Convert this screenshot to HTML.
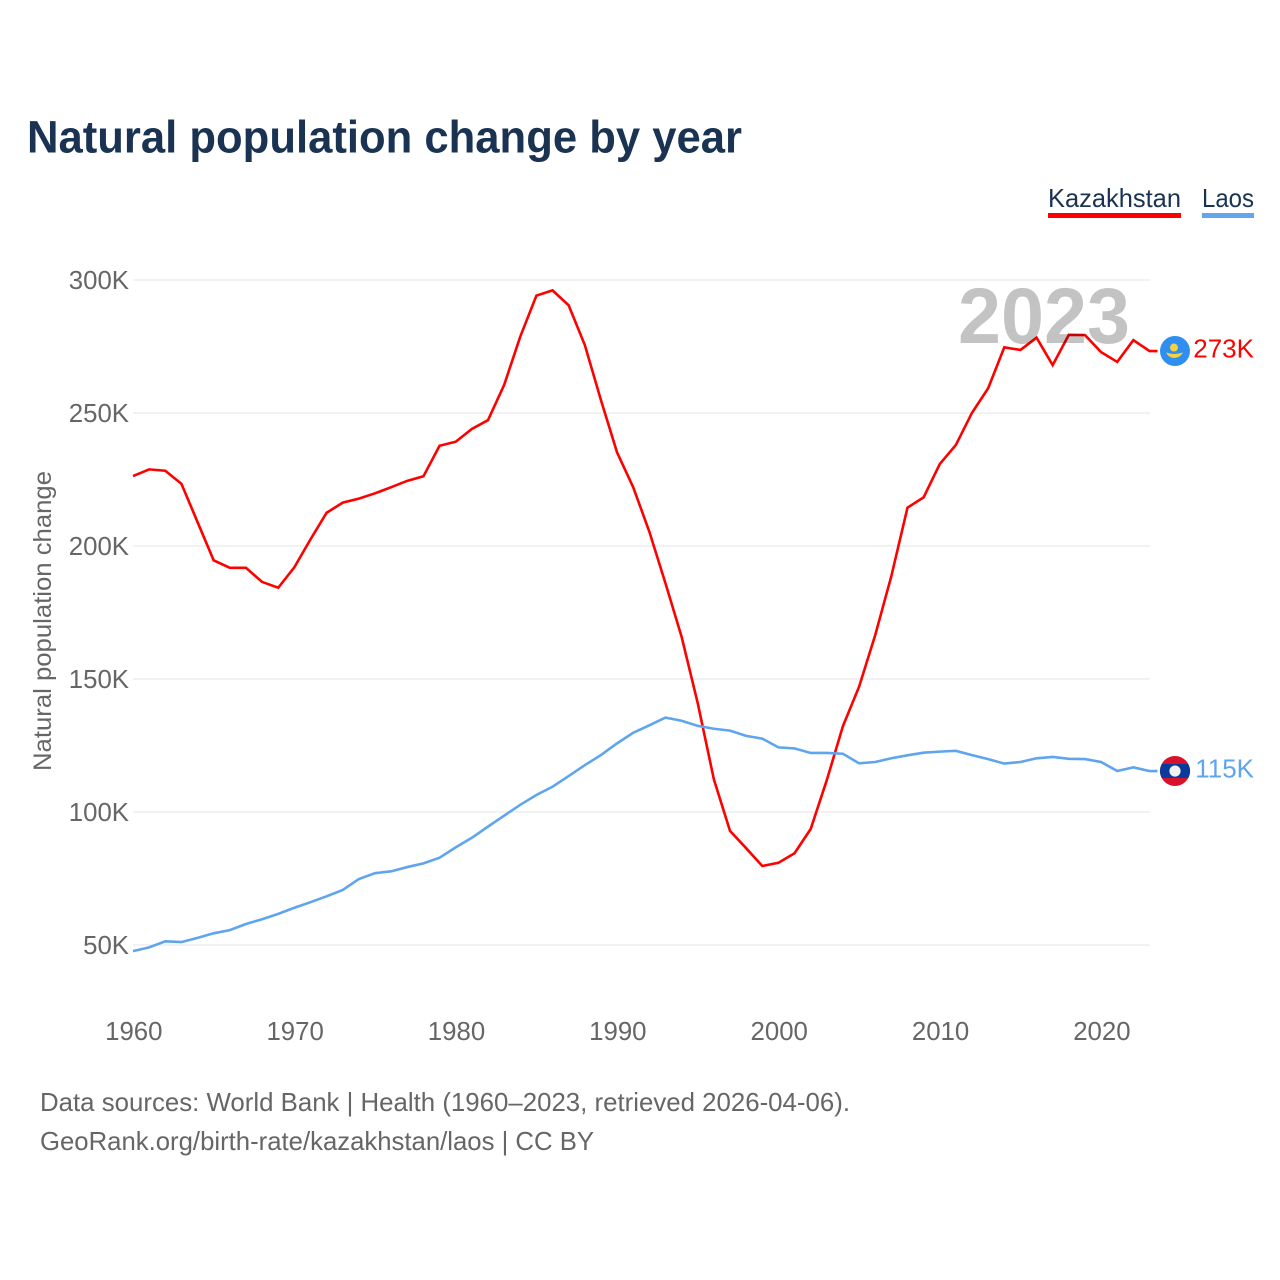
<!DOCTYPE html>
<html lang="en">
<head>
<meta charset="utf-8">
<title>Natural population change by year</title>
<style>
  html, body { margin: 0; padding: 0; background: #fff; }
  svg { display: block; font-family: "Liberation Sans", sans-serif; }
</style>
</head>
<body>
<svg id="chart" xmlns="http://www.w3.org/2000/svg" width="1280" height="1280" viewBox="0 0 1280 1280">
  <rect x="0" y="0" width="1280" height="1280" fill="#ffffff"/>
  <text x="27" y="152.5" font-size="45" font-weight="700" fill="#1a3353" textLength="715" lengthAdjust="spacingAndGlyphs">Natural population change by year</text>

  <g>
    <text x="1048" y="207" font-size="26" fill="#1a3353" textLength="133" lengthAdjust="spacingAndGlyphs">Kazakhstan</text>
    <rect x="1048" y="213" width="133" height="5" fill="#ff0000"/>
  </g>
  <g>
    <text x="1202" y="207" font-size="26" fill="#1a3353" textLength="52" lengthAdjust="spacingAndGlyphs">Laos</text>
    <rect x="1202" y="213" width="52" height="5" fill="#62a6ee"/>
  </g>

  <text transform="translate(51,621) rotate(-90)" text-anchor="middle" font-size="25" fill="#666666" textLength="300" lengthAdjust="spacingAndGlyphs">Natural population change</text>

  <g id="grid"></g>
  <g id="y-ticks"></g>
  <g id="x-ticks"></g>
  <g id="series"></g>

  <text x="1130" y="343" text-anchor="end" font-size="79" font-weight="700" fill="#000000" fill-opacity="0.235" textLength="172" lengthAdjust="spacingAndGlyphs">2023</text>

  <g id="flag-kazakhstan">
    <circle r="15" fill="#2f8ff0"/>
    <circle cx="-1" cy="-3.5" r="4" fill="#f5d142"/>
    <path d="M-9 1.5 Q-4 3 -1 3 Q3 3 8 1.5 Q5 7 -1 7 Q-6 7 -9 1.5 Z" fill="#f5d142"/>
  </g>
  <g id="flag-laos">
    <circle r="15" fill="#d8112c"/>
    <path d="M-13.27 -7 H13.27 A15 15 0 0 1 13.27 7 H-13.27 A15 15 0 0 1 -13.27 -7 Z" fill="#0a3a9c"/>
    <circle r="5.6" fill="#f2f2f2"/>
  </g>

  <text x="40" y="1111" font-size="26" fill="#666666" textLength="810" lengthAdjust="spacingAndGlyphs">Data sources: World Bank | Health (1960–2023, retrieved 2026-04-06).</text>
  <text x="40" y="1150" font-size="26" fill="#666666" textLength="554" lengthAdjust="spacingAndGlyphs">GeoRank.org/birth-rate/kazakhstan/laos | CC BY</text>
</svg>

<script>
const years = [1960,1961,1962,1963,1964,1965,1966,1967,1968,1969,1970,1971,1972,1973,1974,1975,1976,1977,1978,1979,1980,1981,1982,1983,1984,1985,1986,1987,1988,1989,1990,1991,1992,1993,1994,1995,1996,1997,1998,1999,2000,2001,2002,2003,2004,2005,2006,2007,2008,2009,2010,2011,2012,2013,2014,2015,2016,2017,2018,2019,2020,2021,2022,2023];
const kazakhstan = [226.3,228.8,228.3,223.4,209.0,194.6,191.8,191.8,186.5,184.3,192.0,202.5,212.5,216.3,217.8,219.8,222.1,224.5,226.2,237.7,239.2,244.0,247.3,260.5,278.7,294.1,296.1,290.5,275.6,254.9,235.2,222.1,205.4,186.0,165.9,140.9,112.3,92.9,86.4,79.7,80.9,84.5,93.6,112.0,132.3,147.1,166.5,188.7,214.4,218.3,230.8,238.0,250.1,259.3,274.7,273.7,278.3,268.0,279.4,279.3,272.9,269.2,277.4,273.3];
const laos = [47.7,49.1,51.4,51.1,52.7,54.4,55.6,57.9,59.7,61.7,64.0,66.1,68.3,70.7,74.8,77.0,77.7,79.3,80.7,82.8,86.7,90.3,94.5,98.6,102.7,106.4,109.5,113.5,117.6,121.4,125.8,129.8,132.6,135.5,134.3,132.4,131.3,130.6,128.6,127.6,124.3,123.9,122.2,122.2,121.9,118.3,118.8,120.2,121.3,122.3,122.7,123.0,121.4,119.9,118.2,118.8,120.2,120.7,120.0,119.9,118.8,115.4,116.8,115.4];
const yTickValues = [50,100,150,200,250,300];
const xTickValues = [1960,1970,1980,1990,2000,2010,2020];

const SVG_NS = 'http://www.w3.org/2000/svg';
function xScale(year) { return 133 + (year - 1960) * 16.135; }
function yScale(value) { return 945 - (value - 50) * 2.66; }
function make(tag, attrs, parent) {
  const el = document.createElementNS(SVG_NS, tag);
  for (const k in attrs) el.setAttribute(k, attrs[k]);
  parent.appendChild(el);
  return el;
}

const grid = document.getElementById('grid');
const yTicks = document.getElementById('y-ticks');
const xTicks = document.getElementById('x-ticks');
const seriesGroup = document.getElementById('series');

yTickValues.forEach(function (v) {
  const line = make('line', { x1: 133, x2: 1150, y1: yScale(v), y2: yScale(v), stroke: '#e9e9e9', 'stroke-width': 1.3 }, grid);
  
  
  const label = make('text', { x: 129, y: yScale(v) + 9, 'text-anchor': 'end', 'font-size': 25.8, fill: '#666666' }, yTicks);
  
  
  label.textContent = v + 'K';
});

xTickValues.forEach(function (yr) {
  const label = make('text', { x: xScale(yr) + 0.8, y: 1040, 'text-anchor': 'middle', 'font-size': 25.8, fill: '#666666' }, xTicks);
  
  
  label.textContent = yr;
});

function drawSeries(name, values, color, flagId) {
  const lastY = yScale(values[values.length - 1]);
  const lastX = xScale(years[years.length - 1]);
  const pts = values.map(function (v, i) { return xScale(years[i]).toFixed(2) + ',' + yScale(v).toFixed(2); });
  pts.push((lastX + 8).toFixed(2) + ',' + lastY.toFixed(2));
  const line = make('polyline', { points: pts.join(' '), fill: 'none', stroke: color, 'stroke-width': 2.6, 'stroke-linejoin': 'miter' }, seriesGroup);
  
  
  document.getElementById(flagId).setAttribute('transform', 'translate(1175,' + lastY.toFixed(2) + ')');
  const label = make('text', { x: 1254, y: lastY + 6.3, 'text-anchor': 'end', 'font-size': 26, fill: color }, seriesGroup);
  
  
  label.textContent = Math.round(values[values.length - 1]) + 'K';
}

drawSeries('kazakhstan', kazakhstan, '#ff0000', 'flag-kazakhstan');
drawSeries('laos', laos, '#5fa5ee', 'flag-laos');
</script>
</body>
</html>
